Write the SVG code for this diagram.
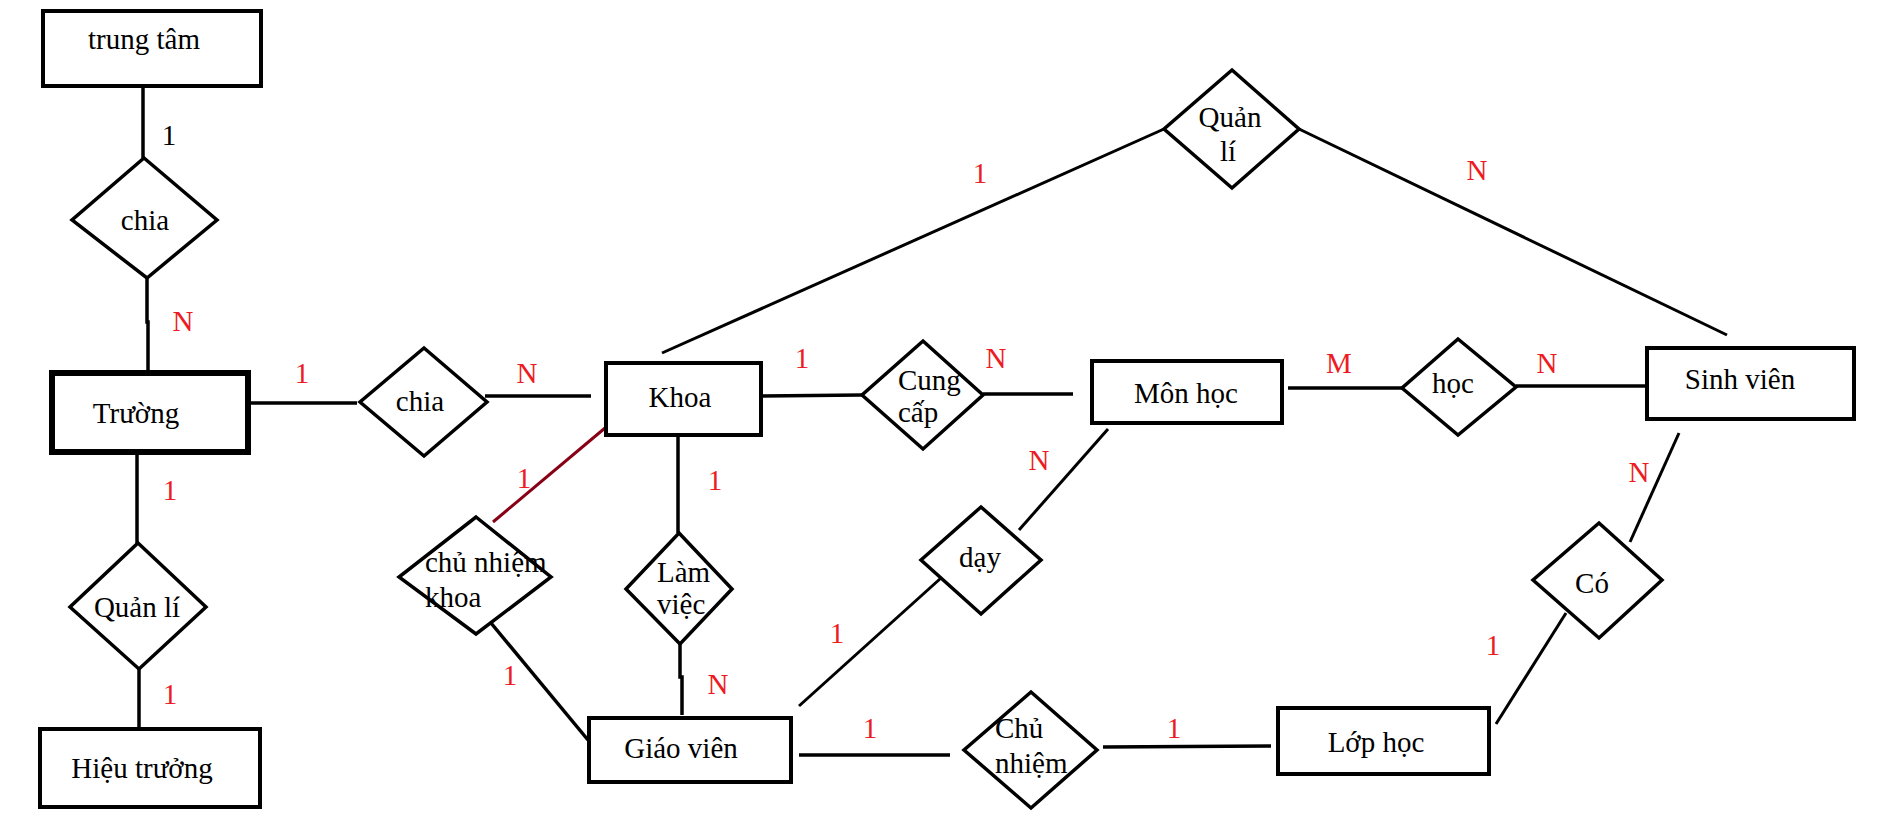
<svg xmlns="http://www.w3.org/2000/svg" width="1884" height="817" viewBox="0 0 1884 817">
<style>
.ent{fill:#fff;stroke:#000;stroke-width:4}
.thick{stroke-width:6}
.rel{fill:#fff;stroke:#000;stroke-width:3.5}
.t{font-family:"Liberation Serif","Times New Roman",serif;font-size:29px;fill:#000}
.c{text-anchor:middle}
.lab{font-family:"Liberation Serif","Times New Roman",serif;font-size:29px;fill:#ed1c24;text-anchor:middle}
.lk{fill:#000}
.ln{stroke:#000;stroke-width:3.5;fill:none}
.thin{stroke-width:3}
.dr{stroke:#880015}
</style>
<rect width="1884" height="817" fill="#fff"/>
<g id="connectors">
<line class="ln" x1="143" y1="86" x2="143" y2="158"/>
<polyline class="ln" points="147,278 147,322 148,322 148,373"/>
<line class="ln" x1="248" y1="403" x2="357" y2="403"/>
<line class="ln" x1="137" y1="452" x2="137" y2="543"/>
<line class="ln" x1="139" y1="669" x2="139" y2="729"/>
<line class="ln" x1="485" y1="396" x2="591" y2="396"/>
<line class="ln" x1="761" y1="396" x2="862" y2="395"/>
<line class="ln thin dr" x1="605" y1="428" x2="493" y2="522"/>
<line class="ln" x1="491" y1="623" x2="588" y2="740"/>
<line class="ln" x1="678" y1="435" x2="678" y2="533"/>
<polyline class="ln" points="680,644 680,677 682,677 682,715"/>
<line class="ln thin" x1="1164" y1="129" x2="662" y2="353"/>
<line class="ln thin" x1="1299" y1="129" x2="1727" y2="335"/>
<line class="ln" x1="983" y1="394" x2="1073" y2="394"/>
<line class="ln" x1="1288" y1="388" x2="1402" y2="388"/>
<line class="ln" x1="1516" y1="386" x2="1651" y2="386"/>
<line class="ln thin" x1="1108" y1="429" x2="1019" y2="530"/>
<line class="ln thin" x1="941" y1="578" x2="799" y2="706"/>
<line class="ln" x1="799" y1="755" x2="950" y2="755"/>
<line class="ln" x1="1103" y1="747" x2="1271" y2="746"/>
<line class="ln thin" x1="1496" y1="724" x2="1566" y2="613"/>
<line class="ln thin" x1="1630" y1="542" x2="1679" y2="433"/>
</g>
<g id="labels">
<text class="lab lk" x="169" y="145">1</text>
<text class="lab" x="183" y="331">N</text>
<text class="lab" x="302" y="383">1</text>
<text class="lab" x="170" y="500">1</text>
<text class="lab" x="170" y="704">1</text>
<text class="lab" x="527" y="383">N</text>
<text class="lab" x="802" y="368">1</text>
<text class="lab" x="524" y="488">1</text>
<text class="lab" x="510" y="685">1</text>
<text class="lab" x="715" y="490">1</text>
<text class="lab" x="718" y="694">N</text>
<text class="lab" x="837" y="643">1</text>
<text class="lab" x="870" y="738">1</text>
<text class="lab" x="980" y="183">1</text>
<text class="lab" x="996" y="368">N</text>
<text class="lab" x="1039" y="470">N</text>
<text class="lab" x="1477" y="180">N</text>
<text class="lab" x="1339" y="373">M</text>
<text class="lab" x="1547" y="373">N</text>
<text class="lab" x="1639" y="482">N</text>
<text class="lab" x="1174" y="738">1</text>
<text class="lab" x="1493" y="655">1</text>
</g>
<g id="trung-tam">
<rect class="ent" x="43" y="11" width="218" height="75"/>
<text class="t c" x="144" y="49">trung tâm</text>
</g>
<g id="chia-1">
<polygon class="rel" points="144,158 217,220 147,278 72,220"/>
<text class="t c" x="145" y="230">chia</text>
</g>
<g id="truong">
<rect class="ent thick" x="52" y="373" width="196" height="79"/>
<text class="t c" x="136" y="423">Trường</text>
</g>
<g id="quan-li-1">
<polygon class="rel" points="138,543 206,607 139,669 70,607"/>
<text class="t c" x="137" y="617">Quản lí</text>
</g>
<g id="hieu-truong">
<rect class="ent" x="40" y="729" width="220" height="78"/>
<text class="t c" x="142" y="778">Hiệu trưởng</text>
</g>
<g id="chia-2">
<polygon class="rel" points="424,348 487,402 424,456 360,402"/>
<text class="t c" x="420" y="411">chia</text>
</g>
<g id="khoa">
<rect class="ent" x="606" y="363" width="155" height="72"/>
<text class="t c" x="680" y="407">Khoa</text>
</g>
<g id="cung-cap">
<polygon class="rel" points="923,341 983,395 923,449 862,395"/>
<text class="t" x="898" y="390">Cung</text>
<text class="t" x="898" y="422">cấp</text>
</g>
<g id="mon-hoc">
<rect class="ent" x="1092" y="361" width="190" height="62"/>
<text class="t c" x="1186" y="403">Môn học</text>
</g>
<g id="hoc">
<polygon class="rel" points="1458,339 1516,387 1458,435 1402,388"/>
<text class="t c" x="1453" y="393">học</text>
</g>
<g id="sinh-vien">
<rect class="ent" x="1647" y="348" width="207" height="71"/>
<text class="t c" x="1740" y="389">Sinh viên</text>
</g>
<g id="quan-li-2">
<polygon class="rel" points="1232,70 1299,129 1232,188 1164,129"/>
<text class="t c" x="1230" y="127">Quản</text>
<text class="t c" x="1228" y="161">lí</text>
</g>
<g id="chu-nhiem-khoa">
<polygon class="rel" points="476,517 551,577 476,634 399,577"/>
<text class="t" x="425" y="572">chủ nhiệm</text>
<text class="t" x="425" y="607">khoa</text>
</g>
<g id="lam-viec">
<polygon class="rel" points="679,533 732,589 680,644 626,589"/>
<text class="t" x="657" y="582">Làm</text>
<text class="t" x="657" y="614">việc</text>
</g>
<g id="giao-vien">
<rect class="ent" x="589" y="718" width="202" height="64"/>
<text class="t c" x="681" y="758">Giáo viên</text>
</g>
<g id="day">
<polygon class="rel" points="981,507 1041,560 981,614 921,560"/>
<text class="t c" x="980" y="567">dạy</text>
</g>
<g id="chu-nhiem">
<polygon class="rel" points="1031,692 1097,750 1031,808 964,750"/>
<text class="t" x="995" y="738">Chủ</text>
<text class="t" x="995" y="773">nhiệm</text>
</g>
<g id="lop-hoc">
<rect class="ent" x="1278" y="708" width="211" height="66"/>
<text class="t c" x="1376" y="752">Lớp học</text>
</g>
<g id="co">
<polygon class="rel" points="1599,523 1662,580 1599,638 1533,580"/>
<text class="t c" x="1592" y="593">Có</text>
</g>
</svg>
